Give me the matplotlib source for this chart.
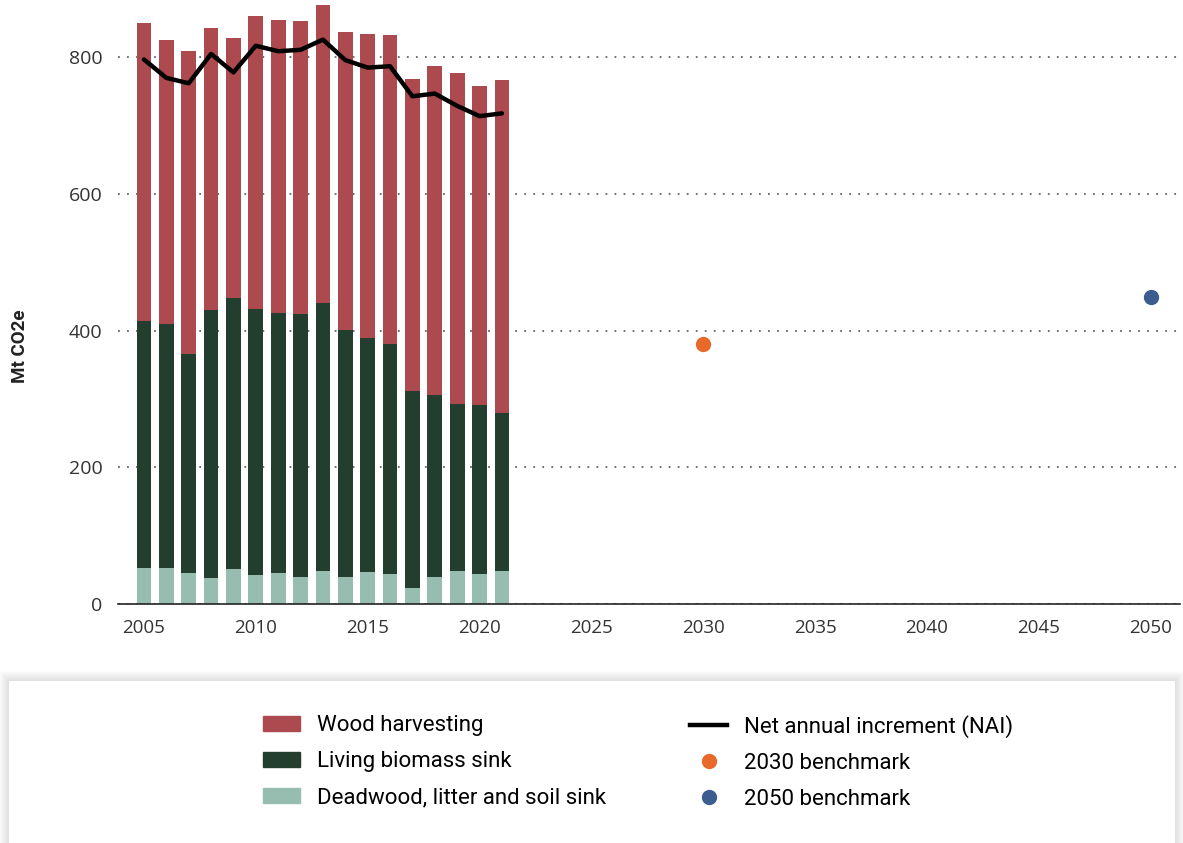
import numpy as np
import matplotlib
matplotlib.use("Agg")
import matplotlib.pyplot as plt
from matplotlib.patches import Rectangle, Patch
from matplotlib.lines import Line2D

years = list(range(2005, 2022))
deadwood_sink = [52, 53, 46, 38, 51, 43, 45, 40, 49, 39, 47, 44, 24, 39, 48, 44, 48]
living_biomass_sink = [362, 357, 320, 392, 397, 389, 381, 384, 391, 362, 343, 337, 288, 267, 245, 247, 232]
wood_harvesting = [436, 415, 443, 413, 381, 429, 428, 429, 436, 436, 444, 451, 456, 481, 484, 467, 487]
nai = [797, 770, 762, 805, 778, 817, 809, 811, 826, 796, 785, 787, 743, 747, 729, 714, 718]

benchmark_years = [2030, 2050]
benchmark_values = [380, 450]

x_ticks = [2005, 2010, 2015, 2020, 2025, 2030, 2035, 2040, 2045, 2050]
y_ticks = [0, 200, 400, 600, 800]

c_wood = "#ad4a4f"
c_living = "#233d2e"
c_dead = "#97bdb0"
c_2030 = "#e8692a"
c_2050 = "#3b5d8f"

label_font = "Roboto"
tick_font = "Open Sans"

W, H = 1183, 843
fig = plt.figure(figsize=(W / 100, H / 100), dpi=100)
ax = fig.add_axes([118 / W, 1 - 604 / H, (1180 - 118) / W, (604 - 2) / H])

yrs = np.array(years)
dead = np.array(deadwood_sink)
living = np.array(living_biomass_sink)
wood = np.array(wood_harvesting)

bw = 0.66
ax.bar(yrs, dead, bw, color=c_dead, zorder=2)
ax.bar(yrs, living, bw, bottom=dead, color=c_living, zorder=2)
ax.bar(yrs, wood, bw, bottom=dead + living, color=c_wood, zorder=2)
ax.plot(yrs, nai, color="black", lw=3.2, solid_capstyle="round", zorder=3)
ax.plot(benchmark_years[0], benchmark_values[0], "o", ms=10, color=c_2030, zorder=3)
ax.plot(benchmark_years[1], benchmark_values[1], "o", ms=10, color=c_2050, zorder=3)

ax.set_xlim(2003.84, 2051.31)
ax.set_ylim(0, 881)
ax.set_xticks(x_ticks)
ax.set_yticks(y_ticks)
ax.grid(axis="y", color="#666666", lw=1.3, linestyle=(0, (1, 4)), zorder=0)
for s in ["top", "right", "left"]:
    ax.spines[s].set_visible(False)
ax.spines["bottom"].set_color("#222222")
ax.spines["bottom"].set_linewidth(1.2)
ax.tick_params(axis="both", length=0, labelcolor="#333333")
ax.tick_params(axis="y", pad=11, labelsize=14)
ax.tick_params(axis="x", pad=11, labelsize=13.5)
for lbl in ax.get_xticklabels() + ax.get_yticklabels():
    lbl.set_fontfamily(tick_font)

fig.text(20 / W, 1 - 346 / H, "Mt CO2e", rotation=90, va="center", ha="center",
         fontsize=13.5, fontfamily=label_font, fontweight="bold", color="#222222")

# legend panel with a soft shadow
x0, y0, x1, y1 = 9, 681, 1175, 850
for i in range(10, 0, -1):
    fig.patches.append(Rectangle(((x0 - i) / W, 1 - (y1 + i) / H), (x1 - x0 + 2 * i) / W,
                                 (y1 - y0 + 2 * i) / H, transform=fig.transFigure,
                                 facecolor="#000000", alpha=0.012, edgecolor="none", zorder=0))
fig.patches.append(Rectangle((x0 / W, 1 - y1 / H), (x1 - x0) / W, (y1 - y0) / H,
                             transform=fig.transFigure, facecolor="white",
                             edgecolor="none", zorder=0))

leg_kw = dict(frameon=False, borderpad=0, borderaxespad=0, handlelength=1.68,
              handletextpad=0.75, labelspacing=0.68,
              prop={"family": label_font, "size": 16})
bar_handles = [Patch(color=c_wood), Patch(color=c_living), Patch(color=c_dead)]
fig.legend(bar_handles, ["Wood harvesting", "Living biomass sink", "Deadwood, litter and soil sink"],
           loc="upper left", bbox_to_anchor=(263 / W, 1 - 715 / H), handleheight=0.65, **leg_kw)
line_handles = [Line2D([], [], color="black", lw=3.2),
                Line2D([], [], ls="none", marker="o", ms=10, color=c_2030),
                Line2D([], [], ls="none", marker="o", ms=10, color=c_2050)]
fig.legend(line_handles, ["Net annual increment (NAI)", "2030 benchmark", "2050 benchmark"],
           loc="upper left", bbox_to_anchor=(690 / W, 1 - 715 / H), **leg_kw)

fig.savefig("out.png", dpi=100)
